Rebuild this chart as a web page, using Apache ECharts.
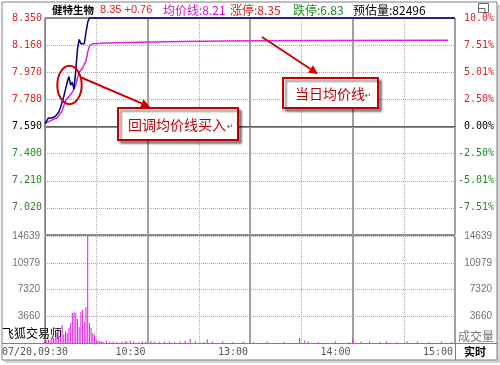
<!DOCTYPE html>
<html><head><meta charset="utf-8">
<script src="https://cdn.jsdelivr.net/npm/echarts@6.0.0/dist/echarts.min.js"></script>
<style>html,body{margin:0;padding:0;background:#fff}#c{width:500px;height:365px}</style>
</head><body><div id="c"></div>
<script>
// ---- data ----
const prevClose = 7.59;
const priceMin = [0,1,2,3,4,5,6,7,8,9,10,11,12,13,14,15,16,17,18,19,20,21,22,23,24,25,26,240];
const priceVal = [7.61,7.63,7.65,7.64,7.65,7.65,7.66,7.66,7.69,7.72,7.76,7.80,7.85,7.90,7.94,7.88,7.90,7.85,7.98,8.13,8.20,8.17,8.18,8.17,8.25,8.32,8.35,8.35];
const avgMin = [0,3,5,7,9,10,12,14,16,18,19,20,22,24,25,26,28,40,80,120,165,236];
const avgVal = [7.61,7.63,7.64,7.65,7.68,7.70,7.77,7.80,7.83,7.88,7.93,7.97,8.00,8.05,8.11,8.155,8.17,8.176,8.185,8.19,8.192,8.195];
const volMin = [0,1,2,3,4,5,6,7,8,9,10,11,12,13,14,15,16,17,18,19,20,21,22,23,24,25,26,27,28,29,30,31,
  32,33,34,36,38,40,42,45,47,48,50,52,55,57,59,62,64,67,70,73,76,79,82,85,88,93,95,98,104,110,116,122,130,140,149,152,154,160,170,178,180,185,190,196,200,206,212,218,225,232,238];
const volVal = [400,300,500,350,600,700,900,1400,800,1800,2460,1200,1640,1370,2050,2740,4100,4240,4100,3280,2190,4240,4510,2870,4920,14639,2740,2050,1370,1100,450,300,
  250,200,150,300,180,220,150,200,250,180,300,200,150,250,200,300,200,150,200,250,150,200,300,550,250,150,500,200,250,150,200,150,200,150,700,300,200,150,200,150,500,200,250,150,200,150,250,200,150,200,150];
const priceTickLabels = ['', '7.020','7.210','7.400','7.590','7.780','7.970','8.160','8.350'];
const pctTickLabels = ['', '-7.51%','-5.01%','-2.50%','0.00%','2.50%','5.01%','7.51%','10.0%'];
const volTickLabels = ['', '3660','7320','10979','14639'];
const timeTickMin = [0,60,120,180,240];
const timeTickLabels = ['07/20,09:30','10:30','13:00','14:00','15:00'];

// ---- helpers ----
const cents = v => +((v - prevClose) * 100).toFixed(3);
const RED = '#dd2020', GREEN = '#1f8a1f', MAG = '#e020e0', NAVY = '#000080';
const MONO = 'DejaVu Sans Mono', CJK = 'Noto Sans CJK SC';
const signColor = v => { v = Number(v); return v > 0 ? RED : (v < 0 ? GREEN : '#000'); };

function arrow(x1, y1, x2, y2, color) {
  const dx = x2 - x1, dy = y2 - y1, L = Math.hypot(dx, dy), ux = dx / L, uy = dy / L;
  const hl = 9, hw = 4.5;
  const bx = x2 - ux * hl, by = y2 - uy * hl;
  return [
    {type:'line', shape:{x1, y1, x2:bx, y2:by}, style:{stroke:color, lineWidth:2}, z:50},
    {type:'polygon', shape:{points:[[x2,y2],[bx - uy*hw, by + ux*hw],[bx + uy*hw, by - ux*hw]]}, style:{fill:color}, z:50}
  ];
}

const chart = echarts.init(document.getElementById('c'), null, {renderer:'canvas'});
const gridLine = '#a0a0a0';
const dotted = {show:true, lineStyle:{color:'#aaaaaa', type:'dotted', width:1}};
const L = 45, R = 45;

const option = {
  animation:false,
  backgroundColor:'#fff',
  grid:[
    {left:L, right:R, top:18, height:217, outerBoundsMode:'none', containLabel:false},
    {left:L, right:R, top:236, height:107, outerBoundsMode:'none', containLabel:false}
  ],
  xAxis:[
    {gridIndex:0, type:'value', min:0, max:240, interval:30, position:'top',
      axisLine:{show:true, lineStyle:{color:'#808080'}}, axisTick:{show:false}, axisLabel:{show:false}, splitLine:dotted},
    {gridIndex:0, type:'value', min:0, max:240, interval:60, position:'bottom',
      axisLine:{show:true, lineStyle:{color:'#606060', width:1}}, axisTick:{show:false}, axisLabel:{show:false},
      splitLine:{show:true, lineStyle:{color:gridLine, width:2}}},
    {gridIndex:1, type:'value', min:0, max:240, interval:30, position:'top',
      axisLine:{show:true, lineStyle:{color:'#606060'}}, axisTick:{show:false}, axisLabel:{show:false}, splitLine:dotted},
    {gridIndex:1, type:'value', min:0, max:240, interval:60, position:'bottom',
      axisLine:{show:true, lineStyle:{color:'#808080'}}, axisTick:{show:false},
      splitLine:{show:true, lineStyle:{color:gridLine, width:2}},
      axisLabel:{show:true, margin:4, align:'center', showMinLabel:true, showMaxLabel:true,
        color:'#555', fontFamily:MONO, fontSize:10,
        formatter: v => { const i = timeTickMin.indexOf(Number(v)); if (i < 0) return ''; return (i === 0 ? '{a|' : '{b|') + timeTickLabels[i] + '}'; },
        rich:{a:{padding:[0,20,0,0], color:'#555', fontFamily:MONO, fontSize:10}, b:{padding:[0,34,0,0], color:'#555', fontFamily:MONO, fontSize:10}}}}
  ],
  yAxis:[
    {gridIndex:0, type:'value', min:-76, max:76, interval:19, position:'left',
      axisLine:{show:true, lineStyle:{color:'#808080'}}, axisTick:{show:false}, splitLine:dotted,
      axisLabel:{show:true, margin:3, showMinLabel:true, showMaxLabel:true, fontFamily:MONO, fontSize:10,
        formatter: v => priceTickLabels[Math.round(v/19) + 4], color: signColor}},
    {gridIndex:0, type:'value', min:-76, max:76, interval:19, position:'right',
      axisLine:{show:true, lineStyle:{color:'#808080'}}, axisTick:{show:false}, splitLine:{show:false},
      axisLabel:{show:true, margin:39, align:'right', showMinLabel:true, showMaxLabel:true, fontFamily:MONO, fontSize:10,
        formatter: v => pctTickLabels[Math.round(v/19) + 4], color: signColor}},
    {gridIndex:0, type:'value', min:-76, max:76, interval:76, position:'left', offset:0,
      axisLine:{show:false}, axisTick:{show:false}, axisLabel:{show:false},
      splitLine:{show:true, lineStyle:{color:'#8c8c8c', width:2}}},
    {gridIndex:1, type:'value', min:0, max:14640, interval:3660, position:'left',
      axisLine:{show:true, lineStyle:{color:'#808080'}}, axisTick:{show:false}, splitLine:dotted,
      axisLabel:{show:true, margin:5, showMinLabel:true, showMaxLabel:true, color:'#707070', fontFamily:'Liberation Sans', fontSize:10,
        formatter: v => volTickLabels[Math.round(v/3660)]}},
    {gridIndex:1, type:'value', min:0, max:14640, interval:3660, position:'right',
      axisLine:{show:true, lineStyle:{color:'#808080'}}, axisTick:{show:false}, splitLine:{show:false},
      axisLabel:{show:true, margin:37, align:'right', showMinLabel:true, showMaxLabel:true, color:'#707070', fontFamily:'Liberation Sans', fontSize:10,
        formatter: v => volTickLabels[Math.round(v/3660)]}}
  ],
  series:[
    {type:'bar', xAxisIndex:3, yAxisIndex:3, barWidth:1, itemStyle:{color:MAG}, silent:true,
      data: volMin.map((m,i) => [m, volVal[i]])},
    {type:'line', xAxisIndex:0, yAxisIndex:0, symbol:'none', clip:false, silent:true, z:4,
      lineStyle:{color:MAG, width:1.5}, data: avgMin.map((m,i) => [m, cents(avgVal[i])])},
    {type:'line', xAxisIndex:0, yAxisIndex:0, symbol:'none', clip:false, silent:true, z:5,
      lineStyle:{color:NAVY, width:1.5}, data: priceMin.map((m,i) => [m, cents(priceVal[i])])}
  ],
  graphic:[
    // frame + shadow
    {type:'rect', shape:{x:497, y:5, width:3, height:358}, style:{fill:'#d4d4d4'}, z:-1},
    {type:'rect', shape:{x:5, y:360, width:495, height:3}, style:{fill:'#d4d4d4'}, z:-1},
    {type:'rect', shape:{x:2, y:2, width:495, height:358}, style:{fill:'none', stroke:'#808080', lineWidth:1}},
    {type:'line', shape:{x1:2, y1:343.5, x2:497, y2:343.5}, style:{stroke:'#808080', lineWidth:1}},
    {type:'line', shape:{x1:455.5, y1:343, x2:455.5, y2:360}, style:{stroke:'#808080', lineWidth:1}},
    // window icon
    {type:'rect', shape:{x:478.5, y:3.5, width:10, height:9}, style:{fill:'none', stroke:'#666', lineWidth:1}},
    {type:'line', shape:{x1:478.5, y1:8.5, x2:485, y2:8.5}, style:{stroke:'#666', lineWidth:1}},
    {type:'line', shape:{x1:485, y1:8.5, x2:485, y2:12.5}, style:{stroke:'#666', lineWidth:1}},
    // title row
    {type:'text', style:{x:52, y:10, text:'健特生物', fill:'#000', font:'bold 10.5px "Noto Sans CJK SC"', verticalAlign:'middle', textVerticalAlign:'middle'}},
    {type:'text', style:{x:100, y:10, text:'8.35 +0.76', fill:RED, font:'11px "Liberation Sans"', verticalAlign:'middle', textVerticalAlign:'middle'}},
    {type:'text', style:{x:163, y:10, text:'均价线:8.21', fill:'#d010d0', font:'12px "Noto Sans CJK SC"', verticalAlign:'middle', textVerticalAlign:'middle'}},
    {type:'text', style:{x:230, y:10, text:'涨停:8.35', fill:RED, font:'12px "Noto Sans CJK SC"', verticalAlign:'middle', textVerticalAlign:'middle'}},
    {type:'text', style:{x:293, y:10, text:'跌停:6.83', fill:GREEN, font:'12px "Noto Sans CJK SC"', verticalAlign:'middle', textVerticalAlign:'middle'}},
    {type:'text', style:{x:353, y:10, text:'预估量:82496', fill:'#000', font:'12px "Noto Sans CJK SC"', verticalAlign:'middle', textVerticalAlign:'middle'}},
    // bottom texts
    {type:'text', style:{x:2, y:333, text:'飞狐交易师', fill:'#000', font:'12px "Noto Sans CJK SC"', verticalAlign:'middle', textVerticalAlign:'middle'}, z:20},
    {type:'text', style:{x:458, y:336, text:'成交量', fill:'#777', font:'12px "Noto Sans CJK SC"', verticalAlign:'middle', textVerticalAlign:'middle'}},
    {type:'text', style:{x:464, y:352, text:'实时', fill:'#000', font:'bold 11px "Noto Sans CJK SC"', verticalAlign:'middle', textVerticalAlign:'middle'}},
    // annotation 1
    {type:'ellipse', shape:{cx:69.5, cy:85, rx:12.2, ry:19.2}, style:{fill:'none', stroke:'#d00000', lineWidth:2}, z:50},
    ...arrow(80, 77, 150, 107, '#d00000'),
    {type:'rect', shape:{x:118, y:108, width:120, height:32}, style:{fill:'#fff', stroke:'#c00000', lineWidth:2, shadowColor:'rgba(0,0,0,0.4)', shadowOffsetX:3, shadowOffsetY:3, shadowBlur:2}, z:40},
    {type:'text', style:{x:128, y:125, text:'回调均价线买入', fill:'#c00000', font:'14px "Noto Sans CJK SC"', verticalAlign:'middle', textVerticalAlign:'middle'}, z:45},
    {type:'text', style:{x:227, y:127, text:'↵', fill:'#555', font:'8px "DejaVu Sans"', verticalAlign:'middle', textVerticalAlign:'middle'}, z:45},
    // annotation 2
    ...arrow(262, 37, 318, 74, '#d00000'),
    {type:'rect', shape:{x:283, y:78, width:95, height:30}, style:{fill:'#fff', stroke:'#c00000', lineWidth:2, shadowColor:'rgba(0,0,0,0.4)', shadowOffsetX:3, shadowOffsetY:3, shadowBlur:2}, z:40},
    {type:'text', style:{x:295, y:94, text:'当日均价线', fill:'#c00000', font:'14px "Noto Sans CJK SC"', verticalAlign:'middle', textVerticalAlign:'middle'}, z:45},
    {type:'text', style:{x:365, y:96, text:'↵', fill:'#555', font:'8px "DejaVu Sans"', verticalAlign:'middle', textVerticalAlign:'middle'}, z:45}
  ]
};
chart.setOption(option);
</script></body></html>
